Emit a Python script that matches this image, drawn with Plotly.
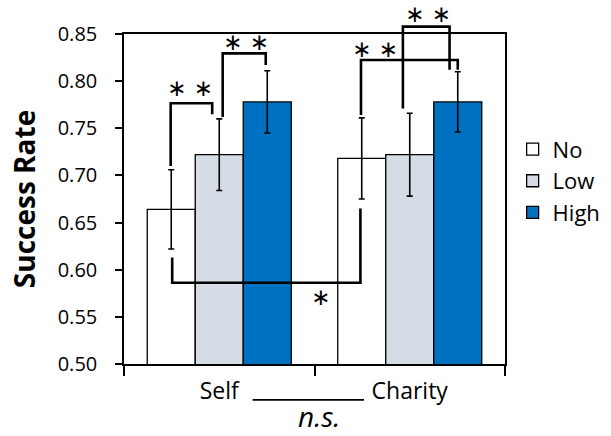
import plotly.graph_objects as go

# ---- data ----
categories = ["Self", "Charity"]
levels = ["No", "Low", "High"]
no_vals = [0.664, 0.718]
low_vals = [0.722, 0.722]
high_vals = [0.778, 0.778]
no_err = [0.042, 0.043]
low_err = [0.038, 0.044]
high_err = [0.033, 0.032]
y_ticks = [0.50, 0.55, 0.60, 0.65, 0.70, 0.75, 0.80, 0.85]

# significance brackets: (x_left, y_left_bottom, x_right, y_right_bottom, y_top, label, label_x, label_y)
# x in category-index units, y in data units
brackets = [
    (-0.255, 0.710, -0.037, 0.765, 0.7765, "∗ ∗", -0.153, 0.793),
    (0.018, 0.762, 0.244, 0.817, 0.8295, "∗ ∗", 0.140, 0.842),
    (0.744, 0.764, 1.252, 0.812, 0.8224, "∗ ∗", 0.817, 0.834),
    (0.964, 0.771, 1.209, 0.812, 0.8578, "∗ ∗", 1.096, 0.871),
]
# bottom bracket (opens upward)
bottom_bracket = (-0.247, 0.613, 0.741, 0.665, 0.5862, "∗", 0.534, 0.571)

Y0, Y1 = 0.5, 0.85
X0, X1 = -0.5, 1.5


def px(x):
    return (x - X0) / (X1 - X0)


def py(y):
    return (y - Y0) / (Y1 - Y0)


colors = {"No": "#FFFFFF", "Low": "#D6DCE5", "High": "#0070C0"}
vals = {"No": no_vals, "Low": low_vals, "High": high_vals}
errs = {"No": no_err, "Low": low_err, "High": high_err}

fig = go.Figure()
for lv in levels:
    fig.add_trace(go.Bar(
        x=categories, y=vals[lv], name=lv,
        marker=dict(color=colors[lv], line=dict(color="#000000", width=1.3)),
        error_y=dict(type="data", array=errs[lv], visible=True,
                     color="#000000", thickness=1.6, width=3),
    ))

shapes = []
annotations = []
line_style = dict(color="#000000", width=2.6)
star_font = dict(family="DejaVu Sans", size=23, color="#000000")
for (xl, yl, xr, yr, yt, lab, lx, ly) in brackets:
    path = (f"M {px(xl)},{py(yl)} L {px(xl)},{py(yt)} "
            f"L {px(xr)},{py(yt)} L {px(xr)},{py(yr)}")
    shapes.append(dict(type="path", xref="paper", yref="paper", path=path,
                       line=line_style))
    annotations.append(dict(x=px(lx), y=py(ly), xref="paper", yref="paper",
                            xanchor="center", yanchor="middle",
                            text=lab, showarrow=False, font=star_font))

xl, yl, xr, yr, yb, lab, lx, ly = bottom_bracket
path = (f"M {px(xl)},{py(yl)} L {px(xl)},{py(yb)} "
        f"L {px(xr)},{py(yb)} L {px(xr)},{py(yr)}")
shapes.append(dict(type="path", xref="paper", yref="paper", path=path, line=line_style))
annotations.append(dict(x=px(lx), y=py(ly), xref="paper", yref="paper",
                        xanchor="center", yanchor="middle",
                        text=lab, showarrow=False, font=star_font))

# Self ---- Charity line and n.s.
shapes.append(dict(type="line", xref="paper", yref="paper",
                   x0=0.3375, x1=0.630, y0=-0.109, y1=-0.109,
                   line=dict(color="#000000", width=1.8)))
annotations.append(dict(x=0.513, y=-0.2175, xref="paper", yref="paper",
                        xanchor="center", yanchor="bottom", borderpad=0,
                        text="<i>n.s.</i>", showarrow=False,
                        font=dict(family="Open Sans", size=28, color="#000000")))

fig.update_layout(
    width=611, height=436,
    margin=dict(l=124, r=106, t=34, b=72, autoexpand=False),
    paper_bgcolor="white", plot_bgcolor="white",
    barmode="group", bargap=0.244, bargroupgap=0,
    showlegend=True,
    legend=dict(x=1.02, xanchor="left", y=0.555, yanchor="middle",
                font=dict(family="Open Sans", size=22, color="#000000"),
                bgcolor="rgba(0,0,0,0)", itemwidth=30, tracegroupgap=0),
    shapes=shapes,
    annotations=annotations,
    font=dict(family="Open Sans", color="#000000"),
)
fig.update_xaxes(
    type="category", range=[X0, X1], tickson="boundaries", automargin=False,
    ticks="outside", ticklen=10, tickwidth=1.5, tickcolor="#000000",
    showline=True, linecolor="#000000", linewidth=1.5, mirror=True,
    showgrid=False, ticklabelstandoff=6,
    tickfont=dict(family="Open Sans", size=23, color="#000000"),
)
fig.update_yaxes(
    range=[Y0, Y1], tickvals=y_ticks, tickformat=".2f", automargin=False,
    ticks="outside", ticklen=7, tickwidth=1.5, tickcolor="#000000",
    showline=True, linecolor="#000000", linewidth=1.5, mirror=True,
    showgrid=False, zeroline=False, ticklabelstandoff=14,
    tickfont=dict(family="Open Sans", size=20, color="#000000"),
    title=dict(text="<b>Success Rate</b>", standoff=14,
               font=dict(family="Open Sans", size=28, color="#000000")),
)

fig.write_html("out.html", config={"displayModeBar": False},
               post_script="document.body.style.margin='0';document.body.style.padding='0';")
